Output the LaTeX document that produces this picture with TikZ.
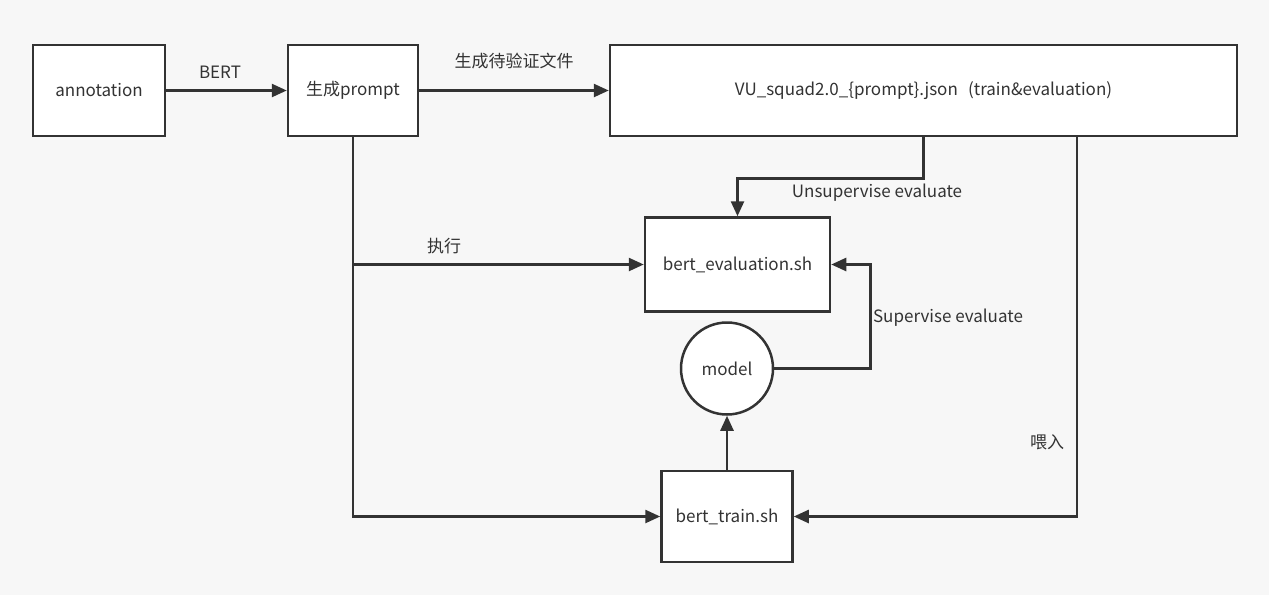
\documentclass[tikz,border=0pt]{standalone}
\usepackage{fontspec}
\setmainfont{Noto Sans CJK SC}
\usetikzlibrary{arrows.meta,calc}
\definecolor{ink}{HTML}{333333}
\definecolor{bg}{HTML}{F7F7F7}
\tikzset{
  box/.style={draw=ink,line width=2.5pt,fill=white,rectangle,inner sep=0pt,font=\fontsize{17}{20}\selectfont,text=ink},
  rnd/.style={draw=ink,line width=2.5pt,fill=white,circle,inner sep=0pt,minimum size=92pt,font=\fontsize{17}{20}\selectfont,text=ink},
  arr/.style={draw=ink,line width=2.5pt,-{Triangle[length=15pt,width=13pt]}},
  lbl/.style={font=\fontsize{17}{20}\selectfont,text=ink,inner sep=0pt},
}
\begin{document}
\begin{tikzpicture}[x=1pt,y=-1pt]
\useasboundingbox (0,0) rectangle (1269,595);
\fill[bg] (0,0) rectangle (1269,595);
\node[box,minimum width=132pt,minimum height=91pt] (ann) at (99,90.5) {annotation};
\node[box,minimum width=130pt,minimum height=91pt] (prm) at (353,90.5) {生成prompt};
\node[box,minimum width=627pt,minimum height=91pt] (vu) at (923.5,90.5) {VU\_squad2.0\_\{prompt\}.json\hspace{0.6em}(train\&evaluation)};
\node[box,minimum width=185pt,minimum height=94pt] (ev) at (737.5,264.5) {bert\_evaluation.sh};
\node[rnd] (mod) at (727,368.5) {model};
\node[box,minimum width=131pt,minimum height=91pt] (trn) at (727,516.5) {bert\_train.sh};
\coordinate (vf) at (1077,136);

\draw[arr] (ann) -- (prm);
\node[lbl] (l1) at (220,72) {BERT};
\draw[arr] (prm) -- (vu);
\node[lbl] (l2) at (514,61) {生成待验证文件};
\draw[arr] (vu.south) -- ++(0,41) -| (ev.north);
\node[lbl] (l3) at (877,193) {Unsupervise evaluate};
\draw[arr] (prm.south) |- (trn.west);
\draw[arr] (prm.south |- ev.west) -- (ev.west);
\node[lbl] (l4) at (444,246) {执行};
\draw[arr] (mod.east) -- ++(96,0) |- (ev.east);
\node[lbl] (l5) at (948,318) {Supervise evaluate};
\draw[arr] (trn.north) -- (mod.south);
\draw[arr] (vf) |- (trn.east);
\node[lbl] (l6) at (1047,442) {喂入};
\end{tikzpicture}
\end{document}
